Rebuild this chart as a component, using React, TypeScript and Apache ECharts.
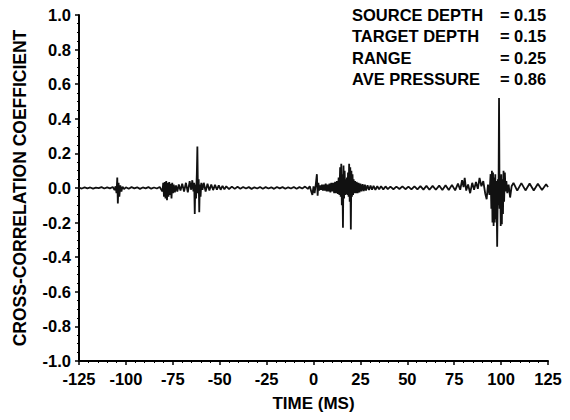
import React, { useEffect, useRef } from "react";
import * as echarts from "echarts";

// ---- Data (time in ms, cross-correlation coefficient) ----
const segQuietLeft: [number, number][] = [
  [-125, 0.002], [-123.5, -0.003], [-122, 0.004], [-120.5, -0.002], [-119, 0.003], [-117.5, -0.004],
  [-116, 0.002], [-114.5, -0.001], [-113, 0.005], [-111.5, -0.003], [-110, 0.004], [-108.5, -0.002],
  [-107, 0.006], [-106, -0.012],
];
const segSpike1: [number, number][] = [
  [-105.5, 0.01], [-105, -0.03], [-104.6, 0.06], [-104.3, -0.09], [-103.9, 0.03], [-103.5, -0.05],
  [-103, 0.015], [-102.4, -0.02], [-101.8, 0.008], [-101, -0.006], [-100, 0.004],
];
const segQuiet2: [number, number][] = [
  [-98.5, -0.004], [-97, 0.005], [-95.5, -0.002], [-94, 0.004], [-92.5, -0.005], [-91, 0.003],
  [-89.5, -0.002], [-88, 0.005], [-86.5, -0.004], [-85, 0.003], [-83.5, -0.003], [-82, 0.006],
];
const segCluster1: [number, number][] = [
  [-80.5, -0.02], [-80.1, 0.03], [-79.7, -0.05], [-79.3, 0.035], [-78.9, -0.06], [-78.5, 0.04],
  [-78.1, -0.07], [-77.7, 0.03], [-77.3, -0.05], [-76.9, 0.035], [-76.5, -0.04], [-76.1, 0.025],
  [-75.7, -0.06], [-75.3, 0.03], [-74.9, -0.03], [-74.5, 0.02], [-73.9, -0.025], [-73.3, 0.015], [-72.6, -0.02],
];
const segWavy1: [number, number][] = [
  [-71.8, 0.02], [-70.9, -0.015], [-70, 0.025], [-69, -0.02], [-68, 0.03], [-67, -0.025], [-66, 0.04],
  [-65.2, -0.01], [-64.6, 0.045],
];
const segSpike2: [number, number][] = [
  [-64, -0.02], [-63.6, 0.03], [-63.3, -0.15], [-63, 0.02], [-62.6, -0.06], [-62.2, 0.08], [-61.9, 0.24],
  [-61.6, -0.03], [-61.2, 0.05], [-60.9, -0.14], [-60.6, 0.02], [-60.2, -0.05], [-59.8, 0.03], [-59.2, -0.01],
];
const segDecay2: [number, number][] = [
  [-58.5, 0.03], [-57.5, -0.02], [-56.5, 0.025], [-55.5, -0.015], [-54.5, 0.02], [-53.5, -0.012],
  [-52.5, 0.018], [-51.5, -0.01], [-50.5, 0.015], [-49.5, -0.01], [-48.5, 0.012], [-47.5, -0.008],
  [-46.5, 0.01], [-45, -0.006], [-43.5, 0.008], [-42, -0.005], [-40.5, 0.007],
];
const segQuiet3: [number, number][] = [
  [-39, -0.004], [-37.5, 0.006], [-36, -0.003], [-34.5, 0.005], [-33, -0.005], [-31.5, 0.004],
  [-30, -0.003], [-28.5, 0.006], [-27, -0.004], [-25.5, 0.005], [-24, -0.003], [-22.5, 0.004],
  [-21, -0.005], [-19.5, 0.006], [-18, -0.002], [-16.5, 0.005], [-15, -0.004], [-13.5, 0.004],
  [-12, -0.003], [-10.5, 0.006], [-9, -0.004], [-7.5, 0.005], [-6, -0.003], [-4.5, 0.008], [-3, -0.005],
];
const segSpike3: [number, number][] = [
  [-2, 0.01], [-1.2, -0.02], [-0.6, -0.04], [0, 0.01], [0.6, -0.03], [1.2, 0.02], [1.8, 0.08],
  [2.2, -0.045], [2.6, 0.03], [3, -0.015],
];
const segBand: [number, number][] = [
  [3.5, 0.015], [4, -0.01], [4.5, 0.02], [5, -0.015], [5.5, 0.02], [6, -0.015], [6.5, 0.025], [7, -0.02],
  [7.5, 0.02], [8, -0.02], [8.5, 0.025], [9, -0.025], [9.5, 0.03], [10, -0.02], [10.5, 0.03], [11, -0.03],
  [11.5, 0.035], [12, -0.03], [12.5, 0.04], [13, -0.035],
];
const segSpikes4: [number, number][] = [
  [13.4, 0.06], [13.8, -0.04], [14.2, 0.12], [14.5, -0.05], [14.8, 0.14], [15.1, -0.1], [15.4, 0.08],
  [15.7, -0.23], [16, 0.13], [16.3, -0.06], [16.6, 0.1], [16.9, -0.04], [17.2, 0.05], [17.5, -0.035],
  [17.8, 0.06], [18.1, -0.04], [18.4, 0.09], [18.7, -0.05], [19, 0.14], [19.3, -0.08], [19.6, 0.12],
  [19.9, -0.24], [20.2, 0.1], [20.5, -0.05], [20.8, 0.08], [21.1, -0.04], [21.4, 0.05], [21.8, -0.03],
  [22.2, 0.04], [22.6, -0.03], [23, 0.035],
];
const segTaper: [number, number][] = [
  [23.5, -0.03], [24, 0.03], [24.5, -0.025], [25, 0.025], [25.6, -0.02], [26.2, 0.022], [26.8, -0.018],
  [27.4, 0.02], [28, -0.015], [28.8, 0.016], [29.6, -0.012], [30.4, 0.014], [31.2, -0.01], [32, 0.012],
  [33, -0.01], [34, 0.01], [35, -0.008], [36, 0.01], [37.2, -0.008], [38.4, 0.009], [39.6, -0.006],
];
const segWavy5: [number, number][] = [
  [41, 0.008], [42.6, -0.007], [44.2, 0.008], [45.8, -0.006], [47.4, 0.009], [49, -0.007], [50.6, 0.008],
  [52.2, -0.008], [53.8, 0.01], [55.4, -0.008], [57, 0.011], [58.6, -0.009], [60.2, 0.012], [61.8, -0.01],
];
const segRising: [number, number][] = [
  [63.5, 0.012], [65.2, -0.01], [67, 0.014], [68.7, -0.012], [70.4, 0.016], [72.1, -0.012], [73.8, 0.018],
  [75.5, -0.014], [77, 0.025], [78.2, -0.01], [79.2, 0.045], [80, 0.005], [80.6, 0.058], [81.4, -0.015],
  [82.4, 0.02], [83.5, -0.03], [84.6, 0.03], [85.6, -0.01], [86.6, 0.035], [87.6, -0.005], [88.5, 0.058],
  [89.5, 0.01], [90.5, 0.04], [91.5, -0.03], [92.3, -0.065], [93, 0.02], [93.8, -0.04], [94.4, 0.08],
];
const segBlock: [number, number][] = [
  [94.8, -0.12], [95.1, 0.1], [95.4, -0.2], [95.7, 0.09], [96, -0.22], [96.3, 0.06], [96.6, -0.2],
  [96.9, 0.08], [97.2, -0.18], [97.5, 0.04], [97.9, -0.34], [98.3, 0.05], [98.6, -0.1], [98.9, 0.52],
  [99.2, -0.12], [99.5, 0.07], [99.8, -0.22], [100.1, 0.08], [100.4, -0.21], [100.7, 0.05], [101, -0.15],
  [101.3, 0.1], [101.6, -0.08], [102, 0.09], [102.4, -0.02], [102.8, 0.04], [103.3, -0.03],
];
const segTail: [number, number][] = [
  [104, 0.02], [104.8, -0.055], [105.6, 0.01], [106.6, 0.03], [108.6, -0.015], [110.8, 0.028],
  [113, -0.014], [115.2, 0.026], [117.4, -0.014], [119.6, 0.024], [121.8, -0.012], [124, 0.022], [125, 0.005],
];

const xTicks = { min: -125, max: 125, interval: 25 };
const yTicks = { min: -1, max: 1, interval: 0.2 };

const annotLabels = ["SOURCE DEPTH", "TARGET DEPTH", "RANGE", "AVE PRESSURE"];
const annotValues = ["0.15", "0.15", "0.25", "0.86"];

const xTitle = "TIME (MS)";
const yTitle = "CROSS-CORRELATION COEFFICIENT";

const FONT = "'Liberation Sans', Arial, Helvetica, sans-serif";

export default function App() {
  const ref = useRef<HTMLDivElement>(null);
  useEffect(() => {
    document.body.style.margin = "0";
    if (!ref.current) return;
    const chart = echarts.init(ref.current, undefined, { renderer: "svg" });
    const trace = [
      ...segQuietLeft, ...segSpike1, ...segQuiet2, ...segCluster1, ...segWavy1, ...segSpike2,
      ...segDecay2, ...segQuiet3, ...segSpike3, ...segBand, ...segSpikes4, ...segTaper,
      ...segWavy5, ...segRising, ...segBlock, ...segTail,
    ];
    const lineTop = 15;
    const lineStep = 21.5;
    const annFont = `bold 16.5px ${FONT}`;
    const graphics: any[] = [];
    annotLabels.forEach((lab, i) => {
      const y = lineTop + i * lineStep;
      graphics.push({
        type: "text", left: 352, top: y - 9,
        style: { text: lab, fill: "#000", font: annFont },
      });
      graphics.push({
        type: "text", left: 500, top: y - 9,
        style: { text: "=", fill: "#000", font: annFont },
      });
      graphics.push({
        type: "text", left: 514, top: y - 9,
        style: { text: annotValues[i], fill: "#000", font: annFont },
      });
    });

    chart.setOption({
      animation: false,
      backgroundColor: "#fff",
      grid: { left: 79, right: 22, top: 15, bottom: 59, containLabel: false },
      xAxis: {
        type: "value",
        min: xTicks.min, max: xTicks.max, interval: xTicks.interval,
        name: xTitle, nameLocation: "middle", nameGap: 34,
        nameTextStyle: { fontFamily: FONT, fontWeight: "bold", fontSize: 17, color: "#000" },
        axisLine: { show: true, onZero: false, lineStyle: { color: "#000", width: 2 } },
        axisTick: { show: true, length: 4, lineStyle: { color: "#000", width: 1.5 } },
        minorTick: { show: true, splitNumber: 5, length: 2, lineStyle: { color: "#000", width: 1 } },
        axisLabel: { fontFamily: FONT, fontWeight: "bold", fontSize: 16.5, color: "#000", margin: 9 },
        splitLine: { show: false },
      },
      yAxis: {
        type: "value",
        min: yTicks.min, max: yTicks.max, interval: yTicks.interval,
        name: yTitle, nameLocation: "middle", nameGap: 50, nameRotate: 90,
        nameTextStyle: { fontFamily: FONT, fontWeight: "bold", fontSize: 17.5, color: "#000" },
        axisLine: { show: true, onZero: false, lineStyle: { color: "#000", width: 2 } },
        axisTick: { show: true, length: 4, lineStyle: { color: "#000", width: 1.5 } },
        minorTick: { show: true, splitNumber: 4, length: 2, lineStyle: { color: "#000", width: 1 } },
        axisLabel: {
          fontFamily: FONT, fontWeight: "bold", fontSize: 16.5, color: "#000", margin: 8,
          formatter: (v: number) => v.toFixed(1),
        },
        splitLine: { show: false },
      },
      series: [
        {
          type: "line",
          data: trace,
          showSymbol: false,
          lineStyle: { color: "#111", width: 1.8 },
        },
      ],
      graphic: graphics,
    });
    return () => chart.dispose();
  }, []);
  return <div ref={ref} style={{ width: 570, height: 420 }} />;
}
